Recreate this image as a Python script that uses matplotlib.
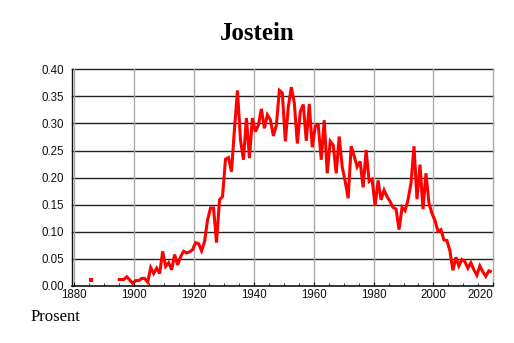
import numpy as np
import matplotlib
matplotlib.use("Agg")
import matplotlib.pyplot as plt
from matplotlib.ticker import MultipleLocator, FixedLocator

title = "Jostein"
ylabel_text = "Prosent"

first_year = 1885
nan = np.nan
values = [
    # 1885-1893
    0.011, nan, nan, nan, nan, nan, nan, nan, nan,
    # 1894-1899
    0.012, 0.012, 0.012, 0.017, 0.011, 0.005,
    # 1900-1909
    0.010, 0.010, 0.014, 0.014, 0.007, 0.034, 0.023, 0.033, 0.023, 0.064,
    # 1910-1919
    0.036, 0.043, 0.030, 0.058, 0.039, 0.054, 0.064, 0.061, 0.063, 0.067,
    # 1920-1929
    0.080, 0.078, 0.065, 0.082, 0.122, 0.144, 0.144, 0.080, 0.159, 0.165,
    # 1930-1939
    0.234, 0.237, 0.211, 0.290, 0.361, 0.270, 0.233, 0.310, 0.236, 0.310,
    # 1940-1949
    0.285, 0.297, 0.327, 0.291, 0.316, 0.307, 0.277, 0.297, 0.361, 0.356,
    # 1950-1959
    0.267, 0.331, 0.367, 0.338, 0.263, 0.322, 0.335, 0.268, 0.336, 0.256,
    # 1960-1969
    0.295, 0.297, 0.233, 0.306, 0.208, 0.267, 0.260, 0.208, 0.276, 0.220,
    # 1970-1979
    0.193, 0.162, 0.258, 0.240, 0.220, 0.230, 0.182, 0.251, 0.193, 0.197,
    # 1980-1989
    0.148, 0.195, 0.159, 0.177, 0.165, 0.156, 0.145, 0.142, 0.104, 0.145,
    # 1990-1999
    0.139, 0.159, 0.190, 0.258, 0.160, 0.224, 0.142, 0.208, 0.153, 0.134,
    # 2000-2009
    0.121, 0.101, 0.104, 0.085, 0.084, 0.065, 0.029, 0.053, 0.037, 0.049,
    # 2010-2019
    0.045, 0.033, 0.043, 0.030, 0.020, 0.037, 0.026, 0.018, 0.028, 0.026,
]
years = np.arange(first_year, first_year + len(values))
vals = np.array(values, dtype=float)

x_ticks = [1880, 1900, 1920, 1940, 1960, 1980, 2000, 2020]
y_ticks = [0.00, 0.05, 0.10, 0.15, 0.20, 0.25, 0.30, 0.35, 0.40]

fig = plt.figure(figsize=(5.14, 3.43), dpi=100)
ax = fig.add_axes([72.3/514, 1-286/343, (493.3-72.3)/514, (286-69.3)/343])

xpos = years + 0.5  # each year's value plotted mid-year
ax.plot(xpos, vals, color="#ff0000", lw=2.2, solid_capstyle="butt",
        solid_joinstyle="miter", zorder=3)
# isolated points (no neighbours) drawn as small squares
isolated = []
for i in range(len(vals)):
    if np.isnan(vals[i]):
        continue
    left = np.isnan(vals[i-1]) if i > 0 else True
    right = np.isnan(vals[i+1]) if i < len(vals)-1 else True
    if left and right:
        isolated.append(i)
ax.plot(xpos[isolated], vals[isolated], ls="none", marker="s", ms=2.3,
        mew=0, color="#ff0000", zorder=3)

ax.set_xlim(1879.3, 2020)
ax.set_ylim(0, 0.40)

ax.xaxis.set_major_locator(FixedLocator(x_ticks))
ax.xaxis.set_minor_locator(MultipleLocator(5))
ax.yaxis.set_major_locator(FixedLocator(y_ticks))
ax.set_yticklabels([f"{v:.2f}" for v in y_ticks])
ax.set_xticklabels([str(v) for v in x_ticks])

for v in y_ticks[1:]:
    ax.axhline(v, color="#222222", lw=1.0, zorder=1, clip_on=False)
for v in x_ticks:
    ax.axvline(v, color="#aaaaaa", lw=1.0, zorder=1, clip_on=False)

for s in ["top", "right"]:
    ax.spines[s].set_visible(False)
ax.spines["left"].set_color("#111111")
ax.spines["bottom"].set_color("#111111")
ax.spines["left"].set_linewidth(1.0)
ax.spines["bottom"].set_linewidth(1.2)

ax.tick_params(axis="y", length=0, pad=6, labelsize=8.3, labelcolor="#111111")
ax.tick_params(axis="x", which="major", direction="in", length=3, pad=2,
               labelsize=8.3, color="#111111", labelcolor="#111111")
ax.tick_params(axis="x", which="minor", direction="in", length=2.5,
               color="#111111")
for lab in ax.get_xticklabels() + ax.get_yticklabels():
    lab.set_fontfamily("Liberation Sans")
ax.get_xticklabels()[-1].set_horizontalalignment("right")

fig.text(0.5, 1-33/343, title, ha="center", va="center",
         fontfamily="Liberation Serif", fontweight="bold", fontsize=18)
fig.text(31/514, 1-317/343, ylabel_text, ha="left", va="center",
         fontfamily="Liberation Serif", fontsize=12)

fig.savefig("out.png", dpi=100)
